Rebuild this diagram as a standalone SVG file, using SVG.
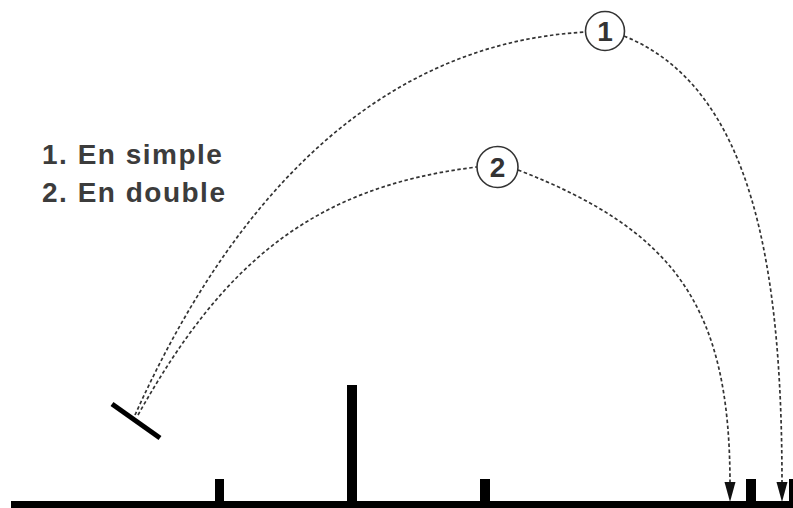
<svg xmlns="http://www.w3.org/2000/svg" width="793" height="508" viewBox="0 0 793 508">
  <defs>
    <style>
      .traj { fill: none; stroke: #333; stroke-width: 1.7; stroke-dasharray: 3.5 2.5; }
      .head { fill: #111; }
      .bubble { fill: #fff; stroke: #333; stroke-width: 1.6; }
      .num { font-family: "Liberation Sans", Arial, sans-serif; font-size: 28px; font-weight: bold; fill: #333; text-anchor: middle; }
      .legend { font-family: "Liberation Sans", Arial, sans-serif; font-size: 28px; font-weight: bold; fill: #3c3c3c; letter-spacing: 1.5px; }
      .solid { fill: #000; }
    </style>
  </defs>
  <rect width="793" height="508" fill="#fff"/>

  <g id="legend">
    <text class="legend" x="42" y="164">1. En simple</text>
    <text class="legend" x="42" y="202">2. En double</text>
  </g>

  <g id="court">
    <rect class="solid" x="11" y="501" width="782" height="7"/>
    <rect class="solid" x="215" y="479" width="9" height="23"/>
    <rect class="solid" x="347" y="385" width="10" height="117"/>
    <rect class="solid" x="480" y="479" width="10" height="23"/>
    <rect class="solid" x="746" y="479" width="10" height="23"/>
    <rect class="solid" x="789" y="479" width="10" height="23"/>
  </g>

  <g id="racket">
    <line x1="112" y1="404" x2="160" y2="438" stroke="#000" stroke-width="5"/>
  </g>

  <g id="connectors">
    <path class="traj" d="M135,415 C225,215 366,44 586,32"/>
    <path class="traj" d="M624,36 C753,88 782,268 782,484"/>
    <polygon class="head" points="776.5,482 787.5,482 782,502"/>
    <path class="traj" d="M138,415 C221,267 309,187 477,167"/>
    <path class="traj" d="M518,170 C676,231 730,308 730,484"/>
    <polygon class="head" points="724.5,482 735.5,482 730,502"/>
  </g>

  <g id="shot1">
    <circle class="bubble" cx="605" cy="31" r="19.5"/>
    <text class="num" x="605" y="41">1</text>
  </g>

  <g id="shot2">
    <circle class="bubble" cx="497.5" cy="167" r="20.5"/>
    <text class="num" x="497.5" y="177">2</text>
  </g>
</svg>
